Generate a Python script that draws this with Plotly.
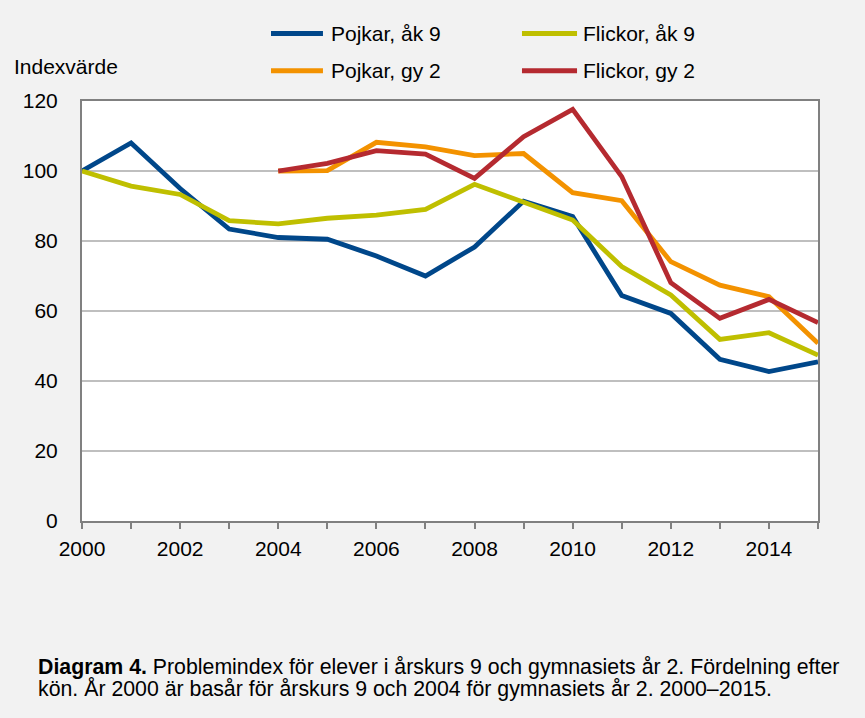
import plotly.graph_objects as go

years = list(range(2000, 2016))
years_gy = list(range(2004, 2016))

pojkar_ak9 = [100, 108, 95, 83.4, 81, 80.5, 75.7, 70, 78.3, 91.4, 87, 64.4, 59.3, 46.2, 42.7, 45.5]
flickor_ak9 = [100, 95.7, 93.3, 85.8, 84.9, 86.5, 87.4, 89, 96.2, 91, 86, 72.7, 64.6, 51.9, 53.8, 47.4]
pojkar_gy2 = [100, 100.1, 108.2, 106.9, 104.4, 105, 93.8, 91.5, 74.1, 67.4, 64.1, 50.8]
flickor_gy2 = [100, 102.2, 105.8, 104.8, 97.9, 109.8, 117.6, 98.4, 68.1, 57.9, 63.3, 56.7]

names = ["Pojkar, åk 9", "Flickor, åk 9", "Pojkar, gy 2", "Flickor, gy 2"]
colors = ["#00478a", "#bfbf00", "#f39200", "#b52a30"]

y_ticks = [0, 20, 40, 60, 80, 100, 120]
x_ticks = [2000, 2002, 2004, 2006, 2008, 2010, 2012, 2014]

caption_lines = [
    "<b>Diagram 4.</b> Problemindex för elever i årskurs 9 och gymnasiets år 2. Fördelning efter",
    "kön. År 2000 är basår för årskurs 9 och 2004 för gymnasiets år 2. 2000–2015.",
]

FONT = "Liberation Sans, Arial, sans-serif"
FS = 21

fig = go.Figure()
series = [(years, pojkar_ak9), (years, flickor_ak9), (years_gy, pojkar_gy2), (years_gy, flickor_gy2)]
for (xs, ys), n, c in zip(series, names, colors):
    fig.add_trace(go.Scatter(x=xs, y=ys, mode="lines", name=n,
                             line=dict(color=c, width=4.8), showlegend=False))

# manual legend (2 columns x 2 rows)
col_x = [(0.2568, 0.3274, 0.3356), (0.5978, 0.6726, 0.6780)]
row_y = [1.1607, 1.0721]
order = [(0, 0), (1, 0), (0, 1), (1, 1)]  # (col, row) for each series
for (ci, ri), n, c in zip(order, names, colors):
    x0, x1, xt = col_x[ci]
    yy = row_y[ri]
    fig.add_shape(type="line", xref="paper", yref="paper", x0=x0, x1=x1, y0=yy, y1=yy,
                  line=dict(color=c, width=5))
    fig.add_annotation(xref="paper", yref="paper", x=xt, y=yy, text=n, showarrow=False,
                       xanchor="left", yanchor="middle",
                       font=dict(family=FONT, size=FS, color="#000000"))

fig.add_annotation(xref="paper", yref="paper", x=-0.0951, y=1.082, text="Indexvärde",
                   showarrow=False, xanchor="left", yanchor="middle",
                   font=dict(family=FONT, size=FS, color="#000000"))

for line, yy in zip(caption_lines, [-0.3475, -0.3995]):
    fig.add_annotation(xref="paper", yref="paper", x=-0.0625, y=yy, text=line,
                       showarrow=False, xanchor="left", yanchor="middle", align="left",
                       font=dict(family=FONT, size=21.3, color="#000000"))

fig.update_layout(
    width=865, height=718,
    paper_bgcolor="#f2f2f2", plot_bgcolor="#ffffff",
    margin=dict(l=82, r=47, t=101, b=197),
    font=dict(family=FONT, size=FS, color="#000000"),
    xaxis=dict(range=[2000, 2015], tickvals=x_ticks, ticktext=[str(v) for v in x_ticks],
               ticks="outside", ticklen=6, tickwidth=1.5, tickcolor="#808080",
               minor=dict(dtick=1, tick0=2000, ticks="outside", ticklen=6, tickwidth=1.5,
                          tickcolor="#808080", showgrid=False),
               showline=True, linecolor="#808080", linewidth=2, mirror=True,
               showgrid=False, zeroline=False, fixedrange=True, ticklabelstandoff=2),
    yaxis=dict(range=[0, 120], tickvals=y_ticks, ticktext=[str(v) for v in y_ticks],
               ticks="", showline=True, linecolor="#808080", linewidth=2, mirror=True,
               showgrid=True, gridcolor="#bfbfbf", gridwidth=1.5, zeroline=False,
               ticklabelstandoff=18, fixedrange=True),
)

fig.write_html("out.html", config={"displayModeBar": False},
               post_script="document.body.style.margin='0px';")
